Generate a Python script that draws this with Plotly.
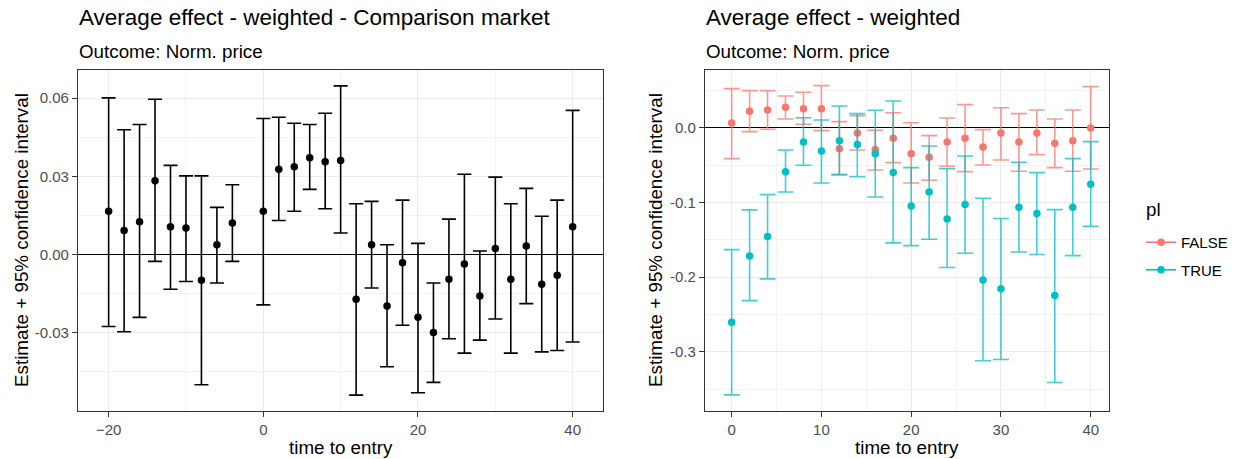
import plotly.graph_objects as go

# ---------------- Left panel data (Comparison market) ----------------
t_left = [-20, -18, -16, -14, -12, -10, -8, -6, -4, 0, 2, 4, 6, 8, 10,
          12, 14, 16, 18, 20, 22, 24, 26, 28, 30, 32, 34, 36, 38, 40]
est_left = [0.0166, 0.0092, 0.0126, 0.0283, 0.0107, 0.0102, -0.0098, 0.0038, 0.0121,
            0.0166, 0.0327, 0.0337, 0.0371, 0.0356, 0.0361,
            -0.0171, 0.0038, -0.0197, -0.0031, -0.0240, -0.0299, -0.0095, -0.0036,
            -0.0159, 0.0023, -0.0095, 0.0033, -0.0114, -0.0079, 0.0107]
up_left = [0.0601, 0.0479, 0.0499, 0.0596, 0.0342, 0.0302, 0.0302, 0.0181, 0.0268,
           0.0522, 0.0527, 0.0504, 0.0499, 0.0542, 0.0647,
           0.0195, 0.0204, 0.0038, 0.0209, 0.0043, -0.0109, 0.0136, 0.0308,
           0.0014, 0.0297, 0.0195, 0.0254, 0.0147, 0.0209, 0.0553]
lo_left = [-0.0276, -0.0296, -0.0241, -0.0026, -0.0133, -0.0103, -0.0499, -0.0109, -0.0026,
           -0.0193, 0.0131, 0.0166, 0.0250, 0.0176, 0.0083,
           -0.0539, -0.0128, -0.0430, -0.0271, -0.0530, -0.0490, -0.0323, -0.0378,
           -0.0328, -0.0247, -0.0378, -0.0188, -0.0373, -0.0368, -0.0335]

# ---------------- Right panel data (by pl) ----------------
t_right = [0, 2, 4, 6, 8, 10, 12, 14, 16, 18, 20, 22, 24, 26, 28, 30, 32, 34, 36, 38, 40]
est_false = [0.0067, 0.0223, 0.0241, 0.0277, 0.0259, 0.0259, -0.0277, -0.0067, -0.0290,
             -0.0138, -0.0344, -0.0393, -0.0188, -0.0138, -0.0254, -0.0067, -0.0188,
             -0.0067, -0.0205, -0.0170, 0.0000]
up_false = [0.0527, 0.0500, 0.0500, 0.0429, 0.0478, 0.0567, 0.0085, 0.0165, -0.0031,
            0.0205, 0.0071, -0.0103, 0.0134, 0.0313, -0.0022, 0.0272, 0.0192,
            0.0241, 0.0121, 0.0241, 0.0554]
lo_false = [-0.0411, -0.0049, -0.0018, 0.0121, 0.0049, -0.0036, -0.0621, -0.0295, -0.0563,
            -0.0464, -0.0737, -0.0701, -0.0513, -0.0585, -0.0496, -0.0429, -0.0580,
            -0.0357, -0.0531, -0.0580, -0.0549]
est_true = [-0.2603, -0.1714, -0.1455, -0.0585, -0.0188, -0.0308, -0.0170, -0.0223, -0.0344,
            -0.0598, -0.1045, -0.0857, -0.1219, -0.1027, -0.2036, -0.2156, -0.1063,
            -0.1147, -0.2246, -0.1063, -0.0754]
up_true = [-0.1630, -0.1098, -0.0893, -0.0295, 0.0138, 0.0107, 0.0295, 0.0192, 0.0237,
           0.0362, -0.0531, -0.0241, -0.0545, -0.0375, -0.0942, -0.1214, -0.0460,
           -0.0598, -0.1094, -0.0411, -0.0183]
lo_true = [-0.3576, -0.2313, -0.2022, -0.0857, -0.0500, -0.0737, -0.0629, -0.0652, -0.0924,
           -0.1540, -0.1576, -0.1491, -0.1870, -0.1679, -0.3120, -0.3103, -0.1661,
           -0.1696, -0.3411, -0.1710, -0.1317]

left_xticks = [-20, 0, 20, 40]
left_yticks = [-0.03, 0.0, 0.03, 0.06]
left_yticktext = ["-0.03", "0.00", "0.03", "0.06"]
right_xticks = [0, 10, 20, 30, 40]
right_yticks = [-0.3, -0.2, -0.1, 0.0]
right_yticktext = ["-0.3", "-0.2", "-0.1", "0.0"]

W, H = 1238, 459
FONT = "Liberation Sans, Arial, sans-serif"
RED = "#F8766D"
TEAL = "#00BFC4"
RED_A = "rgba(248,118,109,0.75)"
TEAL_A = "rgba(0,191,196,0.75)"
TITLE_SIZE = 22.5
TEXT_SIZE = 18.8
TICK_SIZE = 15


def err(est, up, lo):
    return [u - e for u, e in zip(up, est)], [e - l for e, l in zip(est, lo)]


fig = go.Figure()

a, am = err(est_left, up_left, lo_left)
fig.add_trace(go.Scatter(
    x=t_left, y=est_left, mode="markers", xaxis="x", yaxis="y",
    marker=dict(color="black", size=7.5),
    error_y=dict(type="data", symmetric=False, array=a, arrayminus=am,
                 color="black", thickness=1.6, width=7),
    showlegend=False))

a, am = err(est_false, up_false, lo_false)
fig.add_trace(go.Scatter(
    x=t_right, y=est_false, mode="markers", xaxis="x2", yaxis="y2",
    marker=dict(color=RED, size=7.5),
    error_y=dict(type="data", symmetric=False, array=a, arrayminus=am,
                 color=RED_A, thickness=1.6, width=8),
    showlegend=False))
a, am = err(est_true, up_true, lo_true)
fig.add_trace(go.Scatter(
    x=t_right, y=est_true, mode="markers", xaxis="x2", yaxis="y2",
    marker=dict(color=TEAL, size=7.5),
    error_y=dict(type="data", symmetric=False, array=a, arrayminus=am,
                 color=TEAL_A, thickness=1.6, width=8),
    showlegend=False))

# legend keys
fig.add_trace(go.Scatter(x=[None], y=[None], mode="lines+markers", name="FALSE",
                         legendgroup="f", xaxis="x2", yaxis="y2",
                         line=dict(color=RED, width=1.6), marker=dict(color=RED, size=7.5)))
fig.add_trace(go.Scatter(x=[None], y=[None], mode="lines+markers", name="TRUE",
                         legendgroup="t", xaxis="x2", yaxis="y2",
                         line=dict(color=TEAL, width=1.6), marker=dict(color=TEAL, size=7.5)))

common_axis = dict(showline=True, mirror=True, linecolor="#333333", linewidth=1.3,
                   ticks="outside", ticklen=5, tickcolor="#333333", tickwidth=1.3,
                   gridcolor="#EBEBEB", gridwidth=1.4,
                   tickfont=dict(family=FONT, size=TICK_SIZE, color="#4D4D4D"))

xaxis_extra = dict(zeroline=False)
yaxis_extra = dict(zeroline=True, zerolinecolor="black", zerolinewidth=1.3)

ytop = 1 - 70 / H
ybot = 1 - 410.5 / H
minor_grid = dict(showgrid=True, gridcolor="#F3F3F3", gridwidth=1.0, ticklen=0)

fig.update_layout(
    width=W, height=H,
    margin=dict(l=0, r=0, t=0, b=0),
    paper_bgcolor="white", plot_bgcolor="white",
    font=dict(family=FONT, color="black"),
    xaxis=dict(domain=[78 / W, 603.3 / W], range=[-23.96, 43.96],
               tickvals=left_xticks, anchor="y",
               minor=dict(tickvals=[-10, 10, 30], **minor_grid),
               **common_axis, **xaxis_extra),
    yaxis=dict(domain=[ybot, ytop], range=[-0.0598, 0.0708],
               tickvals=left_yticks, ticktext=left_yticktext, anchor="x",
               minor=dict(tickvals=[-0.045, -0.015, 0.015, 0.045], **minor_grid),
               **common_axis, **yaxis_extra),
    xaxis2=dict(domain=[705 / W, 1109.3 / W], range=[-2.97, 42.07],
                tickvals=right_xticks, anchor="y2",
                minor=dict(tickvals=[5, 15, 25, 35], **minor_grid),
                **common_axis, **xaxis_extra),
    yaxis2=dict(domain=[ybot, ytop], range=[-0.3786, 0.0777],
                tickvals=right_yticks, ticktext=right_yticktext, anchor="x2",
                minor=dict(tickvals=[-0.35, -0.25, -0.15, -0.05, 0.05], **minor_grid),
                **common_axis, **yaxis_extra),
    legend=dict(x=1141 / W, y=1 - 226 / H, xanchor="left", yanchor="top",
                font=dict(family=FONT, size=TICK_SIZE, color="black"),
                itemwidth=30, tracegroupgap=5, traceorder="grouped",
                bgcolor="rgba(0,0,0,0)"),
)

ann = []
# titles
ann.append(dict(text="Average effect - weighted - Comparison market", x=77 / W, y=1 - 18 / H,
                xanchor="left", yanchor="middle", font=dict(size=TITLE_SIZE)))
ann.append(dict(text="Outcome: Norm. price", x=77 / W, y=1 - 51 / H,
                xanchor="left", yanchor="middle", font=dict(size=TEXT_SIZE)))
ann.append(dict(text="Average effect - weighted", x=704 / W, y=1 - 18 / H,
                xanchor="left", yanchor="middle", font=dict(size=TITLE_SIZE)))
ann.append(dict(text="Outcome: Norm. price", x=704 / W, y=1 - 51 / H,
                xanchor="left", yanchor="middle", font=dict(size=TEXT_SIZE)))
# axis titles
ann.append(dict(text="time to entry", x=340.6 / W, y=1 - 447 / H,
                xanchor="center", yanchor="middle", font=dict(size=TEXT_SIZE)))
ann.append(dict(text="time to entry", x=907 / W, y=1 - 447 / H,
                xanchor="center", yanchor="middle", font=dict(size=TEXT_SIZE)))
ann.append(dict(text="Estimate + 95% confidence interval", x=21 / W, y=1 - 240 / H,
                xanchor="center", yanchor="middle", textangle=-90, font=dict(size=TEXT_SIZE)))
ann.append(dict(text="Estimate + 95% confidence interval", x=655 / W, y=1 - 240 / H,
                xanchor="center", yanchor="middle", textangle=-90, font=dict(size=TEXT_SIZE)))
# legend title
ann.append(dict(text="pl", x=1144 / W, y=1 - 209 / H,
                xanchor="left", yanchor="middle", font=dict(size=TEXT_SIZE)))
for a_ in ann:
    a_.update(xref="paper", yref="paper", showarrow=False)
    a_["font"].update(family=FONT, color="black")
    fig.add_annotation(**a_)

fig.write_html("out.html")
